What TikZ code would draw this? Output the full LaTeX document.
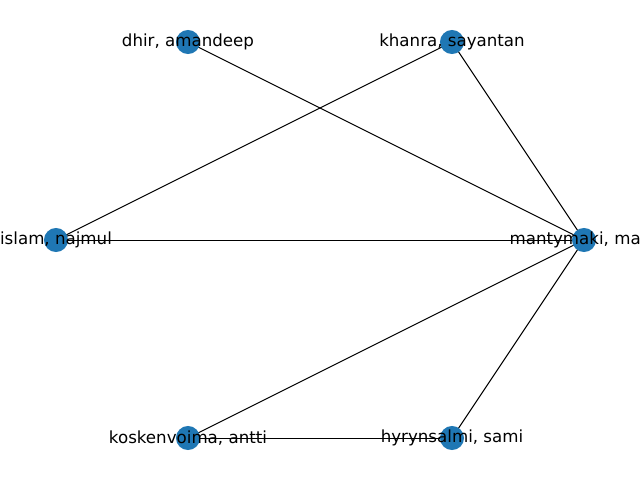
\documentclass[tikz,border=0pt]{standalone}
\usepackage{fontspec}
\setmainfont{DejaVu Sans}
\usetikzlibrary{backgrounds}
\definecolor{nodeblue}{RGB}{31,119,180}
\tikzset{
  author/.style={circle, fill=nodeblue, minimum size=17.3pt, inner sep=0pt},
  lbl/.style={font=\fontsize{12}{14}\selectfont, inner sep=0pt},
  link/.style={black, line width=0.72pt}
}
\begin{document}
\begin{tikzpicture}[x=0.72pt, y=-0.72pt]
    \useasboundingbox (0,0) rectangle (640,480);
    \clip (0,0) rectangle (640,480);

    % Authors
    \node[author] (dhir) at (188, 42) {};
    \node[author] (khanra) at (452, 42) {};
    \node[author] (islam) at (56, 240) {};
    \node[author] (mantymaki) at (584, 240) {};
    \node[author] (koskenvoima) at (188, 438) {};
    \node[author] (hyrynsalmi) at (452, 438) {};

    % Co-author links
    \begin{scope}[on background layer]
    \foreach \a/\b in {dhir/mantymaki, khanra/islam, khanra/mantymaki, islam/mantymaki,
                       mantymaki/koskenvoima, mantymaki/hyrynsalmi, koskenvoima/hyrynsalmi} {
        \draw[link] (\a.center) -- (\b.center);
      }
    \end{scope}

    % Labels
    \node[lbl] (dhir-l) at (dhir) {dhir, amandeep};
    \node[lbl] (khanra-l) at (khanra) {khanra, sayantan};
    \node[lbl] (islam-l) at (islam) {islam, najmul};
    \node[lbl] (mantymaki-l) at (mantymaki) {mantymaki, matti};
    \node[lbl] (koskenvoima-l) at (koskenvoima) {koskenvoima, antti};
    \node[lbl] (hyrynsalmi-l) at (hyrynsalmi) {hyrynsalmi, sami};
  \end{tikzpicture}
\end{document}
